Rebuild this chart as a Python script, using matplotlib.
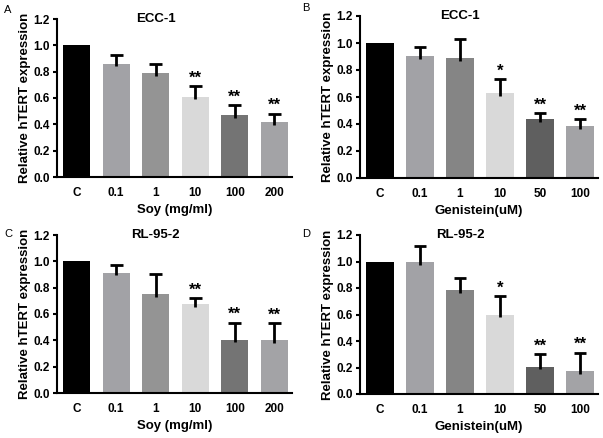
import numpy as np
import matplotlib
matplotlib.use("Agg")
import matplotlib.pyplot as plt

plt.rcParams['font.family'] = ['Liberation Sans', 'DejaVu Sans']

# Data
soy_labels = ["C", "0.1", "1", "10", "100", "200"]
gen_labels = ["C", "0.1", "1", "10", "50", "100"]

a_mean = [1.00, 0.86, 0.79, 0.61, 0.47, 0.415]
a_err = [0.0, 0.07, 0.065, 0.08, 0.075, 0.065]
a_sig = ["", "", "", "**", "**", "**"]

b_mean = [1.00, 0.90, 0.89, 0.63, 0.435, 0.385]
b_err = [0.0, 0.07, 0.14, 0.10, 0.045, 0.05]
b_sig = ["", "", "", "*", "**", "**"]

c_mean = [1.00, 0.915, 0.75, 0.675, 0.405, 0.40]
c_err = [0.0, 0.055, 0.155, 0.045, 0.13, 0.13]
c_sig = ["", "", "", "**", "**", "**"]

d_mean = [1.00, 0.995, 0.785, 0.60, 0.205, 0.17]
d_err = [0.0, 0.12, 0.09, 0.14, 0.095, 0.14]
d_sig = ["", "", "", "*", "**", "**"]

soy_colors = ["#000000", "#a2a2a6", "#949494", "#d9d9d9", "#747474", "#a3a3a6"]
gen_colors = ["#000000", "#a2a2a6", "#858585", "#d9d9d9", "#5f5f5f", "#a3a3a6"]

W, H = 603, 438
fig = plt.figure(figsize=(W / 100, H / 100), dpi=100)


def px_axes(left, right, top, bottom):
    return fig.add_axes([left / W, 1 - bottom / H, (right - left) / W, (bottom - top) / H])


def panel(ax, means, errs, sigs, labels, colors, title, xlabel):
    x = np.arange(len(means))
    ax.bar(x, means, width=0.68, color=colors, zorder=2)
    # upper error bars only (stem + cap)
    for xi, m, e in zip(x, means, errs):
        if e > 0:
            ax.vlines(xi, m - 0.02, m + e, color='black', linewidth=2, zorder=3)
            ax.hlines(m + e, xi - 0.16, xi + 0.16, color='black', linewidth=2, zorder=3)
    for xi, m, e, s in zip(x, means, errs, sigs):
        if s:
            ax.text(xi, m + e + 0.005, s, ha='center', va='bottom',
                    fontsize=12, fontweight='bold')
    ax.set_xlim(-0.5, 5.45)
    ax.set_ylim(0, 1.2)
    ax.set_yticks(np.arange(0, 1.21, 0.2))
    ax.set_yticklabels([f"{v:.1f}" for v in np.arange(0, 1.21, 0.2)])
    ax.set_xticks(x)
    ax.set_xticklabels(labels)
    ax.tick_params(axis='both', labelsize=8.5, width=1.5, length=3, pad=2)
    ax.tick_params(axis='x', length=0, pad=7)
    for lab in ax.get_xticklabels() + ax.get_yticklabels():
        lab.set_fontweight('bold')
    for sp in ['top', 'right']:
        ax.spines[sp].set_visible(False)
    for sp in ['left', 'bottom']:
        ax.spines[sp].set_linewidth(1.5)
    ax.set_xlabel(xlabel, fontsize=9.5, fontweight='bold', labelpad=4)
    ax.set_ylabel("Relative hTERT expression", fontsize=9.5, fontweight='bold', labelpad=2)
    ax.text(0.42, 1.0, title, transform=ax.transAxes, ha='center', va='center',
            fontsize=9.5, fontweight='bold')


ax_a = px_axes(57, 292, 19, 177)
panel(ax_a, a_mean, a_err, a_sig, soy_labels, soy_colors, "ECC-1", "Soy (mg/ml)")
ax_b = px_axes(360, 598, 16, 178)
panel(ax_b, b_mean, b_err, b_sig, gen_labels, gen_colors, "ECC-1", "Genistein(uM)")
ax_c = px_axes(57, 292, 235, 393)
panel(ax_c, c_mean, c_err, c_sig, soy_labels, soy_colors, "RL-95-2", "Soy (mg/ml)")
ax_d = px_axes(360, 598, 235, 394)
panel(ax_d, d_mean, d_err, d_sig, gen_labels, gen_colors, "RL-95-2", "Genistein(uM)")

for letter, xp, yp in [("A", 4, 10), ("B", 302, 8), ("C", 4, 234), ("D", 302, 234)]:
    fig.text(xp / W, 1 - yp / H, letter, fontsize=8, ha='left', va='center')

fig.savefig("out.png", dpi=100)
